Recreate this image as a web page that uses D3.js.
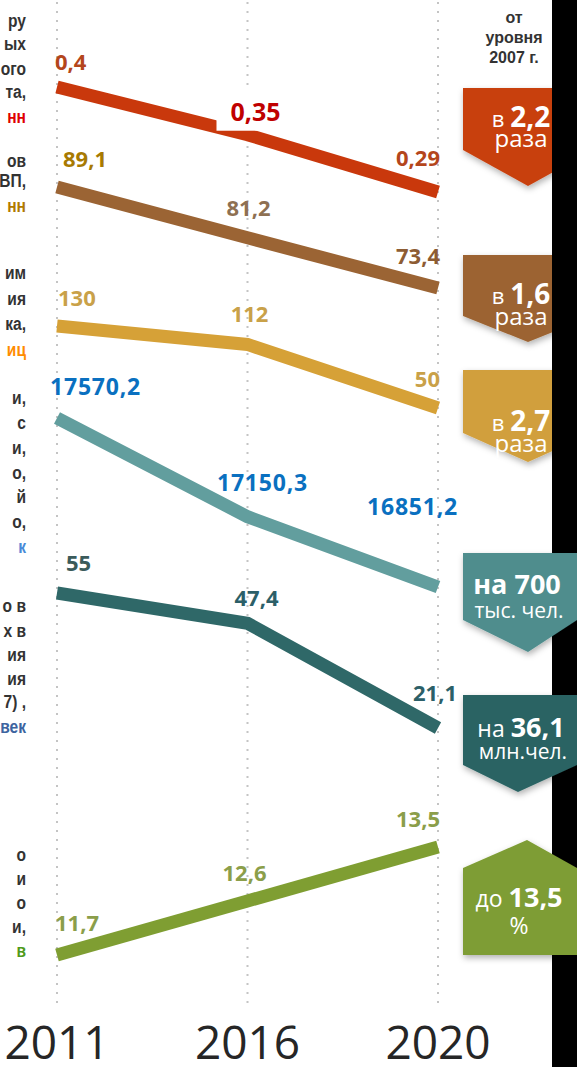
<!DOCTYPE html>
<html>
<head>
<meta charset="utf-8">
<script src="https://cdn.jsdelivr.net/npm/d3@7"></script>
<style>
  body { margin: 0; background: #fff; }
  svg { display: block; }
</style>
</head>
<body>
<script>
var width = 577
var height = 1067

// data

var years = ["2011", "2016", "2020"]

var vRed = [0.4, 0.35, 0.29]
var vBrown = [89.1, 81.2, 73.4]
var vGold = [130, 112, 50]
var vTeal = [17570.2, 17150.3, 16851.2]
var vDark = [55, 47.4, 21.1]
var vGreen = [11.7, 12.6, 13.5]

var badgeLead = ["в", "в", "в", "на", "на", "до"]
var badgeValue = ["2,2", "1,6", "2,7", "700", "36,1", "13,5"]
var badgeUnit = ["раза", "раза", "раза", "тыс. чел.", "млн.чел.", "%"]

var headerLines = ["от", "уровня", "2007 г."]

// cropped row captions on the left (only the tails are visible)
var leftRows = [
  ["ру", "ых", "ого", "та,"], ["нн"],
  ["ов", "ВП,"], ["нн"],
  ["им", "ия", "ка,"], ["иц"],
  ["и,", "с", "и,", "о,", "й", "о,"], ["к"],
  ["о в", "х в", "ия", "ия", "7) ,"], ["век"],
  ["о", "и", "о", "и,"], ["в"]
]

// layout / style (not data)

var series = [
  { vals: vRed,   band: [87, 192],  line: "#c9380c", lab: ["#b4461c", "#c00000", "#b4461c"],
    off: [[-2, -17, "start"], [8, -14, "middle"], [2, -26, "end"]], size: [22, 25, 22] },
  { vals: vBrown, band: [187, 288], line: "#9b6434", lab: ["#a77a02", "#8e7052", "#8d5c33"],
    off: [[6, -20, "start"], [1, -22, "middle"], [2, -24, "end"]], size: [22, 22, 22] },
  { vals: vGold,  band: [326, 408], line: "#d6a137", lab: ["#c9a149", "#c9a149", "#c9a149"],
    off: [[1, -20, "start"], [2, -22, "middle"], [2, -21, "end"]], size: [22, 22, 22] },
  { vals: vTeal,  band: [418, 587], line: "#629e9e", lab: ["#0a70c0", "#0a70c0", "#0a70c0"],
    off: [[-7, -23, "start"], [15, -26, "middle"], [-71, -72, "start"]], size: [23, 23, 23] },
  { vals: vDark,  band: [593, 728], line: "#2f6868", lab: ["#3b5b5b", "#2c5f68", "#2c5f68"],
    off: [[9, -22, "start"], [-13, -17, "start"], [-25, -27, "start"]], size: [22, 22, 22] },
  { vals: vGreen, band: [847, 955], line: "#7f9e32", lab: ["#8b9e4a", "#8b9e4a", "#8b9e4a"],
    off: [[-2, -24, "start"], [-25, -20, "start"], [2, -20, "end"]], size: [22, 22, 22] }
]

var badges = [
  { fill: "#c8410f", top: 88,  shoulder: 150, tip: 186, tipX: 528, dir: "down", front: false, l1: 127, l2: 147, big: 28, lead: 22, unit: 24, cx: 521 },
  { fill: "#9c6432", top: 255, shoulder: 316, tip: 342, tipX: 528, dir: "down", front: false, l1: 304, l2: 325, big: 28, lead: 22, unit: 24, cx: 521 },
  { fill: "#d19f3e", top: 370, shoulder: 433, tip: 462, tipX: 528, dir: "down", front: false, l1: 431, l2: 452, big: 28, lead: 22, unit: 24, cx: 521 },
  { fill: "#4f8d8d", top: 553, shoulder: 620, tip: 652, tipX: 528, dir: "down", front: true,  l1: 594, l2: 618, big: 27, lead: 27, unit: 21, cx: 517 },
  { fill: "#2b6464", top: 695, shoulder: 765, tip: 792, tipX: 518, dir: "down", front: true,  l1: 737, l2: 759, big: 27, lead: 23, unit: 21, cx: 521 },
  { fill: "#7e9d34", top: 840, shoulder: 868, tip: 955, tipX: 527, dir: "up",   front: true,  l1: 907, l2: 934, big: 27, lead: 23, unit: 23, cx: 519 }
]

var leftColors = ["#e00000", "#b07a00", "#ff8c00", "#4a8ad8", "#3d64a0", "#4f9a1a"]
var leftBaselines = [
  [27, 50, 75, 98], [123],
  [167, 187], [212],
  [279, 305, 330], [356],
  [404, 429, 454, 479, 503, 528], [553],
  [612, 637, 661, 685, 708], [733],
  [861, 885, 909, 933], [957]
]

var fmt = d3.formatLocale({ decimal: ",", thousands: "", grouping: [3], currency: ["", ""] }).format("~f")

var svg = d3.select("body")
  .append("svg")
  .attr("width", width)
  .attr("height", height)

var defs = svg.append("defs")
var shadow = defs.append("filter").attr("id", "shadow")
  .attr("x", "-20%").attr("y", "-20%").attr("width", "140%").attr("height", "150%")
shadow.append("feDropShadow")
  .attr("dx", 1).attr("dy", 3).attr("stdDeviation", 3)
  .attr("flood-color", "#000").attr("flood-opacity", 0.3)

var x = d3.scalePoint().domain(years).range([57, 438])

// dotted verticals
svg.append("g").selectAll("line")
  .data(years)
  .enter()
  .append("line")
  .attr("x1", function(d){ return x(d) })
  .attr("x2", function(d){ return x(d) })
  .attr("y1", 2)
  .attr("y2", 1005)
  .attr("stroke", "#c4c4c4")
  .attr("stroke-width", 2)
  .attr("stroke-dasharray", "2,7")

// year labels
svg.append("g").selectAll("text")
  .data(years)
  .enter()
  .append("text")
  .attr("x", function(d){ return x(d) })
  .attr("y", 1059)
  .attr("text-anchor", "middle")
  .attr("font-family", "'Open Sans', sans-serif")
  .attr("font-size", 46)
  .attr("fill", "#262626")
  .text(function(d){ return d })

// left captions (squeezed horizontally like the source table)
var sx = 0.82
var left = svg.append("g")
  .attr("transform", "scale(" + sx + ",1)")
  .attr("font-family", "'Liberation Sans', Arial, sans-serif")
  .attr("font-weight", "bold")
  .attr("font-size", 19)
  .attr("text-anchor", "end")
leftRows.forEach(function(rows, i){
  rows.forEach(function(t, j){
    left.append("text")
      .attr("x", 26 / sx)
      .attr("y", leftBaselines[i][j])
      .attr("fill", i % 2 ? leftColors[(i - 1) / 2] : "#333")
      .text(t)
  })
})

// lines
var line = d3.line()
  .x(function(d){ return x(d.year) })
  .y(function(d){ return d.y })

series.forEach(function(s){
  // each indicator gets its own vertical scale inside its band
  var y = d3.scaleLinear().domain(d3.extent(s.vals)).range([s.band[1], s.band[0]])
  var pts = s.vals.map(function(v, i){ return { year: years[i], v: v, y: y(v) } })

  svg.append("path")
    .datum(pts)
    .attr("d", line)
    .attr("fill", "none")
    .attr("stroke", s.line)
    .attr("stroke-width", 13)
    .attr("stroke-linejoin", "miter")

  var g = svg.append("g")
    .attr("font-family", "'Open Sans', sans-serif")
    .attr("font-weight", "bold")
  pts.forEach(function(p, i){
    var o = s.off[i]
    var t = g.append("text")
      .attr("x", x(p.year) + o[0])
      .attr("y", p.y + o[1])
      .attr("text-anchor", o[2])
      .attr("font-size", s.size[i])
      .attr("fill", s.lab[i])
      .attr("letter-spacing", s.vals === vTeal ? 0.8 : 0)
      .text(fmt(p.v))
    if (s.vals === vRed && i === 1) {
      var b = t.node().getBBox()
      g.insert("rect", "text")
        .attr("x", b.x - 14)
        .attr("y", b.y - 4)
        .attr("width", b.width + 2)
        .attr("height", b.height + 7)
        .attr("fill", "#fff")
    }
  })
})

// badges
function badgePath(b){
  var x0 = 463, x1 = b.front ? 577 : 593
  if (b.dir === "down") {
    return "M" + x0 + "," + b.top + "H" + x1 + "V" + b.shoulder +
      "L" + b.tipX + "," + b.tip + "L" + x0 + "," + b.shoulder + "Z"
  }
  return "M" + x0 + "," + b.tip + "H" + x1 + "V" + b.shoulder +
    "L" + b.tipX + "," + b.top + "L" + x0 + "," + b.shoulder + "Z"
}

function drawBadge(b, i){
  var g = svg.append("g")
  g.append("path")
    .attr("d", badgePath(b))
    .attr("fill", b.fill)
    .attr("filter", "url(#shadow)")
  var t1 = g.append("text")
    .attr("x", b.cx)
    .attr("y", b.l1)
    .attr("text-anchor", "middle")
    .attr("font-family", "'Open Sans', sans-serif")
    .attr("fill", "#fff")
  t1.append("tspan")
    .attr("font-size", b.lead)
    .attr("font-weight", i === 3 ? "bold" : "normal")
    .text(badgeLead[i] + " ")
  t1.append("tspan")
    .attr("font-size", b.big)
    .attr("font-weight", "bold")
    .text(badgeValue[i])
  g.append("text")
    .attr("x", b.cx + (i === 3 || i === 4 ? 2 : 0))
    .attr("y", b.l2)
    .attr("text-anchor", "middle")
    .attr("font-family", "'Open Sans', sans-serif")
    .attr("font-size", b.unit)
    .attr("fill", "#fff")
    .text(badgeUnit[i])
}

badges.forEach(function(b, i){ if (!b.front) drawBadge(b, i) })

// black bar on the right edge
svg.append("rect")
  .attr("x", 552)
  .attr("y", 0)
  .attr("width", width - 552)
  .attr("height", height)
  .attr("fill", "#000")

badges.forEach(function(b, i){ if (b.front) drawBadge(b, i) })

// header
svg.append("g").selectAll("text")
  .data(headerLines)
  .enter()
  .append("text")
  .attr("x", 514)
  .attr("y", function(d, i){ return 23 + i * 20 })
  .attr("text-anchor", "middle")
  .attr("font-family", "'Liberation Sans', Arial, sans-serif")
  .attr("font-weight", "bold")
  .attr("font-size", 16)
  .attr("fill", "#333")
  .text(function(d){ return d })
</script>
</body>
</html>
